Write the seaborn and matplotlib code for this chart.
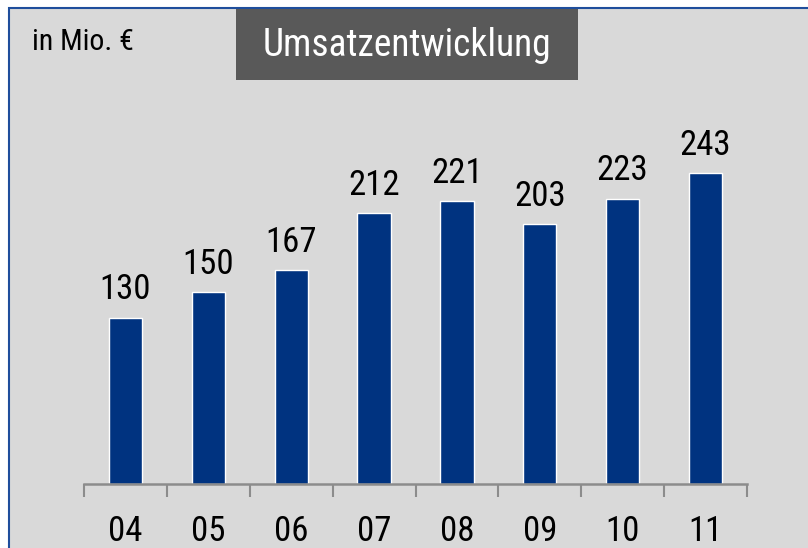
import matplotlib
matplotlib.use("Agg")
import matplotlib.pyplot as plt
import seaborn as sns
import pandas as pd
from matplotlib import font_manager
from matplotlib.patches import Rectangle
from matplotlib.ticker import FixedLocator

years = ["04", "05", "06", "07", "08", "09", "10", "11"]
revenue = [130, 150, 167, 212, 221, 203, 223, 243]
title_text = "Umsatzentwicklung"
unit_text = "in Mio. €"

available = {f.name for f in font_manager.fontManager.ttflist}
font = "DejaVu Sans"
for cand in ["Liberation Sans Narrow", "Arial Narrow", "Roboto Condensed", "Liberation Sans", "Roboto"]:
    if cand in available:
        font = cand
        break

sns.set_theme(style="white")
plt.rcParams["font.family"] = [font, "DejaVu Sans"]

W, H = 808, 548
fig = plt.figure(figsize=(W / 100, H / 100), dpi=100, facecolor="white")

# panel background with blue border on top/left
fig.patches.append(Rectangle((8.5 / W, -0.1), 1.2, (H - 8.5) / H + 0.1,
                             transform=fig.transFigure, facecolor="#d9d9d9",
                             edgecolor="#1f4e9c", linewidth=1.5, zorder=-5))
# title box
fig.patches.append(Rectangle((236 / W, (H - 80) / H), (578 - 236) / W, 71 / H,
                             transform=fig.transFigure, facecolor="#595959",
                             edgecolor="none", zorder=1))
fig.text((236 + 578) / 2 / W, (H - 46) / H, title_text, color="white",
         fontsize=27, ha="center", va="center", zorder=2)
fig.text(32 / W, (H - 42) / H, unit_text, color="black", fontsize=21.5,
         ha="left", va="center", zorder=2)

left, right, bottom, top = 84, 747, 484, 100
ax = fig.add_axes([left / W, (H - bottom) / H, (right - left) / W, (bottom - top) / H])
ax.set_facecolor("none")

df = pd.DataFrame({"year": years, "revenue": revenue})
sns.barplot(data=df, x="year", y="revenue", color="#003380", saturation=1,
            width=0.4, ax=ax)
for c in ax.containers:
    ax.bar_label(c, labels=[str(v) for v in revenue], padding=8, fontsize=25,
                 color="black")

ax.set_ylim(0, 300)
ax.set_xlim(-0.5, len(years) - 0.5)
ax.set_xlabel("")
ax.set_ylabel("")
ax.set_yticks([])
for s in ["top", "right", "left"]:
    ax.spines[s].set_visible(False)
ax.spines["bottom"].set_color("#8c8c8c")
ax.spines["bottom"].set_linewidth(1.8)
ax.xaxis.set_minor_locator(FixedLocator([i - 0.5 for i in range(len(years) + 1)]))
ax.tick_params(axis="x", which="major", length=0, pad=22, labelsize=25, labelcolor="black")
ax.tick_params(axis="x", which="minor", length=9, width=1.5, color="#8c8c8c",
               direction="out", bottom=True)

fig.savefig("out.png", dpi=100, facecolor="white")
